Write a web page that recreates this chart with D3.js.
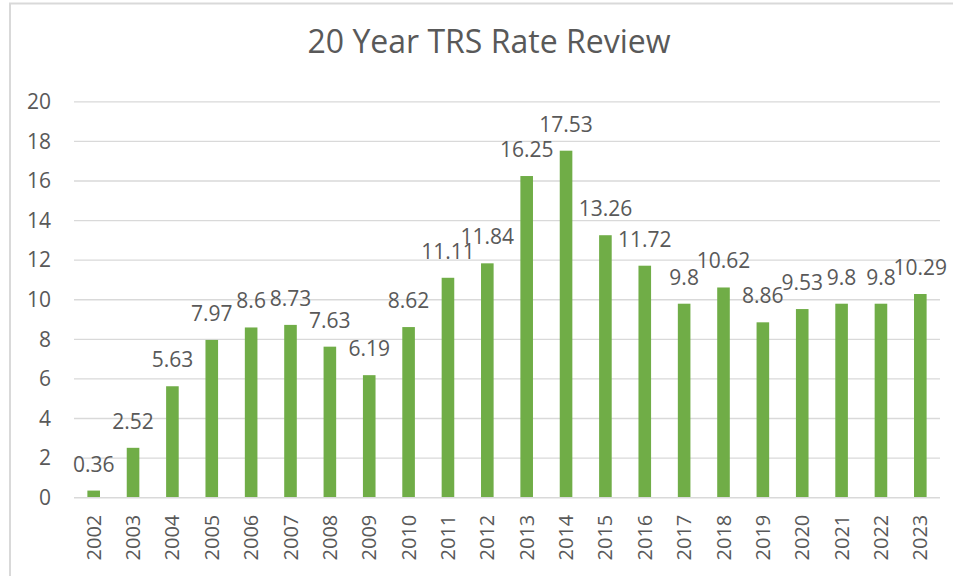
<!DOCTYPE html>
<html>
<head>
<meta charset="utf-8">
<script src="https://cdn.jsdelivr.net/npm/d3@7"></script>
<style>
  body { margin: 0; background: #fff; }
  svg { display: block; }
  text { font-family: "Open Sans", "Noto Sans", sans-serif; fill: #595959; }
</style>
</head>
<body>
<svg id="chart" width="953" height="576"></svg>
<script>
const years = ["2002","2003","2004","2005","2006","2007","2008","2009","2010","2011","2012","2013","2014","2015","2016","2017","2018","2019","2020","2021","2022","2023"];
const rates = [0.36,2.52,5.63,7.97,8.6,8.73,7.63,6.19,8.62,11.11,11.84,16.25,17.53,13.26,11.72,9.8,10.62,8.86,9.53,9.8,9.8,10.29];
const yTicks = [0,2,4,6,8,10,12,14,16,18,20];
const title = "20 Year TRS Rate Review";

const svg = d3.select("#chart");
const W = 953, H = 576;
const plot = { left: 74, right: 940, top: 101.8, bottom: 497.7 };

// outer chart border
svg.append("rect")
  .attr("x", 10).attr("y", 3.5)
  .attr("width", W + 20).attr("height", H + 20)
  .attr("fill", "none").attr("stroke", "#d9d9d9").attr("stroke-width", 2);

const x = d3.scaleBand().domain(years).range([plot.left, plot.right]).paddingInner(0.68).paddingOuter(0.34);
const y = d3.scaleLinear().domain([0, 20]).range([plot.bottom, plot.top]);

// gridlines
svg.append("g").selectAll("line").data(yTicks.filter(d => d > 0)).join("line")
  .attr("x1", plot.left).attr("x2", plot.right)
  .attr("y1", d => y(d)).attr("y2", d => y(d))
  .attr("stroke", "#d9d9d9").attr("stroke-width", 1.3);

// y axis labels
const yAxis = d3.axisLeft(y).tickValues(yTicks).tickSize(0).tickPadding(0);
const gy = svg.append("g").attr("transform", `translate(51,0)`).call(yAxis);
gy.select(".domain").remove();
gy.selectAll("text").attr("font-size", 21).attr("fill", "#595959")
  .style("font-family", '"Open Sans", sans-serif');

// bars
svg.append("g").selectAll("rect").data(years).join("rect")
  .attr("x", d => x(d))
  .attr("width", x.bandwidth())
  .attr("y", (d, i) => y(rates[i]))
  .attr("height", (d, i) => y(0) - y(rates[i]))
  .attr("fill", "#70ad47");

// x axis baseline
svg.append("line")
  .attr("x1", plot.left).attr("x2", plot.right)
  .attr("y1", y(0)).attr("y2", y(0))
  .attr("stroke", "#d9d9d9").attr("stroke-width", 1.5);

// x axis labels
const xAxis = d3.axisBottom(x).tickSize(0).tickPadding(0);
const gx = svg.append("g").attr("transform", `translate(0,${y(0)})`).call(xAxis);
gx.select(".domain").remove();
gx.selectAll("text")
  .attr("transform", "rotate(-90)")
  .attr("x", -17).attr("y", 0).attr("dy", "0.35em")
  .attr("text-anchor", "end")
  .attr("font-size", 20).attr("fill", "#595959")
  .style("font-family", '"Open Sans", sans-serif');

// data labels
svg.append("g").selectAll("text").data(years).join("text")
  .attr("x", d => x(d) + x.bandwidth() / 2)
  .attr("y", (d, i) => y(rates[i]) - 19)
  .attr("text-anchor", "middle")
  .attr("font-size", 21)
  .text((d, i) => String(rates[i]));

// title
svg.append("text")
  .attr("x", 489).attr("y", 53)
  .attr("text-anchor", "middle")
  .attr("font-size", 32)
  .text(title);
</script>
</body>
</html>
